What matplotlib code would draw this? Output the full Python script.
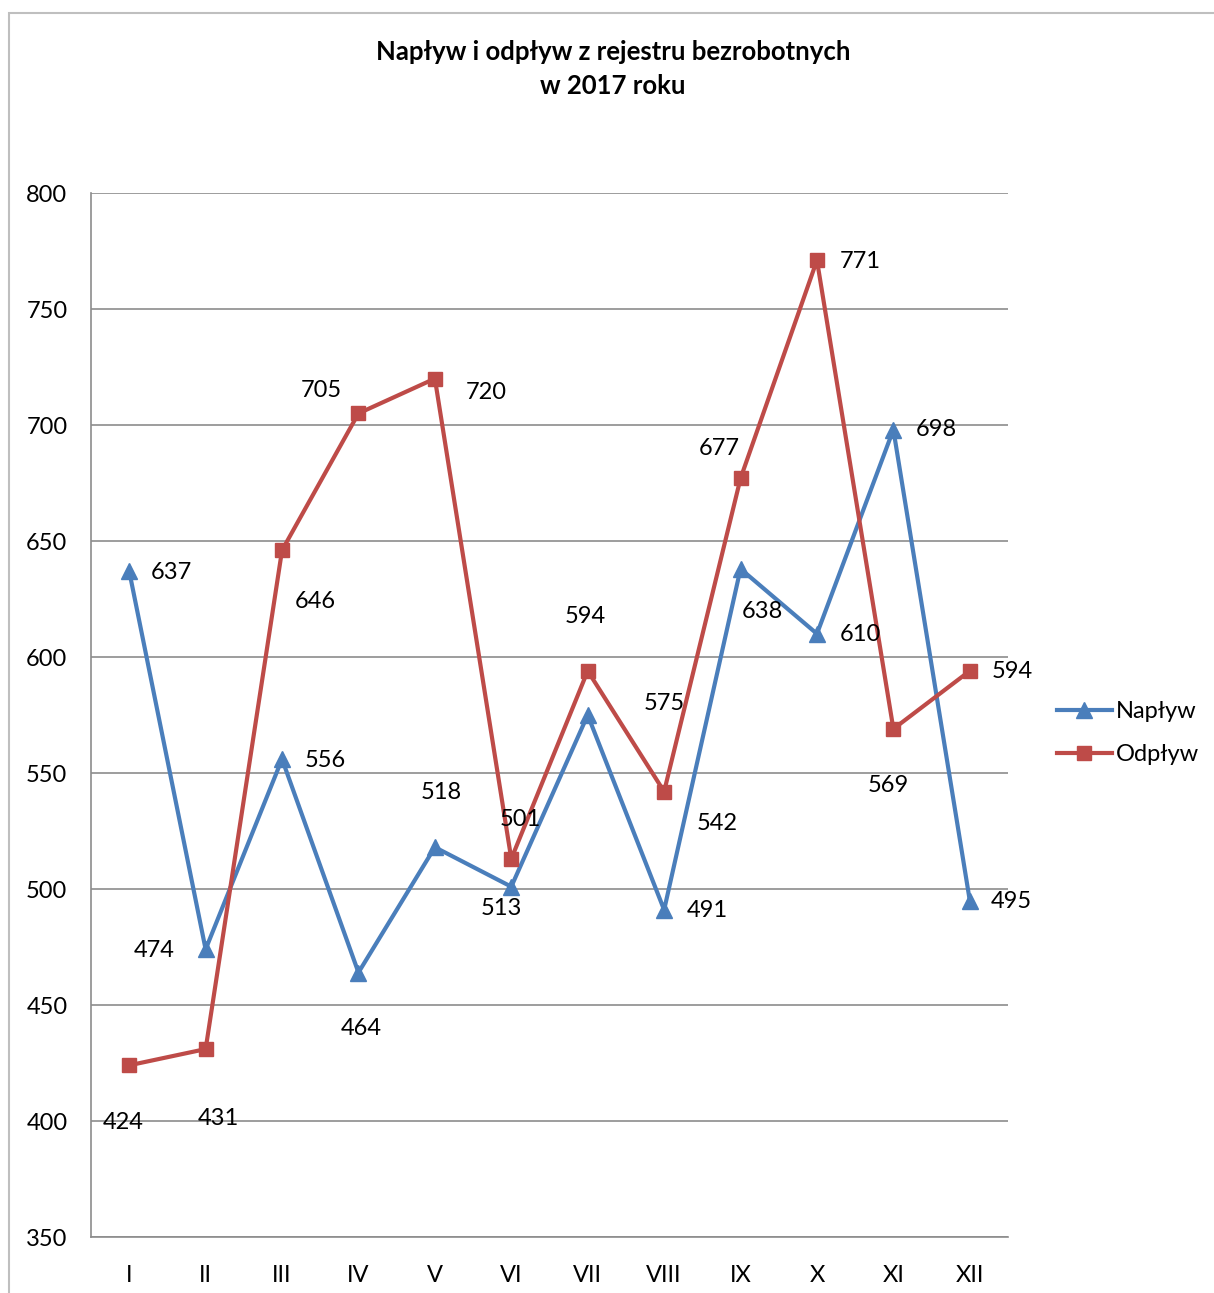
import matplotlib.pyplot as plt
from matplotlib.patches import Rectangle

months = ['I', 'II', 'III', 'IV', 'V', 'VI', 'VII', 'VIII', 'IX', 'X', 'XI', 'XII']
naplyw = [637, 474, 556, 464, 518, 501, 575, 491, 638, 610, 698, 495]
odplyw = [424, 431, 646, 705, 720, 513, 594, 542, 677, 771, 569, 594]

# label offsets in pixels (dx, dy), screen y up
naplyw_off = [(42, -1), (-51, -1), (43, -1), (3, -56), (6, 55), (9, 67),
              (77, 12), (43, -1), (22, -43), (43, -1), (43, 0), (42, -1)]
odplyw_off = [(-6, -57), (13, -69), (33, -51), (-37, 23), (51, -14), (-10, -50),
              (-2, 54), (53, -32), (-21, 30), (43, -1), (-5, -57), (42, -1)]

plt.rcParams['font.family'] = ['Lato', 'DejaVu Sans']
blue = '#4A7EBB'
red = '#BE4B48'

fig = plt.figure(figsize=(12.14, 12.93), dpi=100)
W, H = 1214, 1293
fig.patches.append(Rectangle((9 / W, -0.1), 1.2, 1 - 13 / H + 0.1, transform=fig.transFigure,
                             fill=False, edgecolor='#BFBFBF', linewidth=1.5))

ax = fig.add_axes([91 / W, 1 - 1237 / H, (1008 - 91) / W, (1237 - 193) / H])
x = list(range(len(months)))

ax.plot(x, naplyw, color=blue, lw=3, marker='^', ms=11, label='Napływ', zorder=3)
ax.plot(x, odplyw, color=red, lw=3, marker='s', ms=9.5, label='Odpływ', zorder=3)

for i in x:
    ax.annotate(str(naplyw[i]), (i, naplyw[i]), xytext=naplyw_off[i], textcoords='offset pixels',
                ha='center', va='center', fontsize=17, zorder=4)
    ax.annotate(str(odplyw[i]), (i, odplyw[i]), xytext=odplyw_off[i], textcoords='offset pixels',
                ha='center', va='center', fontsize=17, zorder=4)

ax.set_xlim(-0.5, 11.5)
ax.set_ylim(350, 800)
ax.set_yticks(range(350, 801, 50))
ax.set_xticks(x)
ax.set_xticklabels(months)
ax.yaxis.grid(True, color='#8C8C8C', lw=1.2)
ax.set_axisbelow(True)
ax.tick_params(length=0, labelsize=17, pad=20)
ax.tick_params(axis='y', pad=17)
for s in ['top', 'right']:
    ax.spines[s].set_visible(False)
for s in ['left', 'bottom']:
    ax.spines[s].set_color('#8C8C8C')
    ax.spines[s].set_linewidth(1.2)

fig.text(613 / W, 1 - 69 / H, 'Napływ i odpływ z rejestru bezrobotnych\nw 2017 roku',
         ha='center', va='center', fontsize=18.5, fontweight='bold', linespacing=1.45)

leg = fig.legend(loc='center left', bbox_to_anchor=(1036 / W, 1 - 733 / H), frameon=False,
                 fontsize=17, handlelength=2.3, handletextpad=0.2, labelspacing=0.95)

fig.savefig('out.png', dpi=100)
